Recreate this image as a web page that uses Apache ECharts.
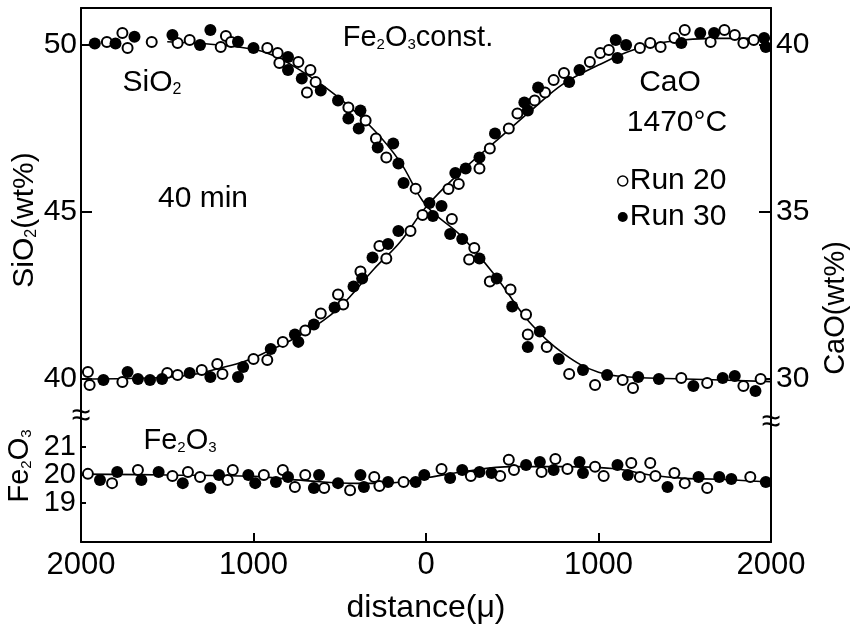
<!DOCTYPE html>
<html>
<head>
<meta charset="utf-8">
<script src="https://cdn.jsdelivr.net/npm/echarts@6/dist/echarts.min.js"></script>
<style>
  html, body { margin: 0; padding: 0; background: #fff; }
  #main { width: 852px; height: 625px; }
</style>
</head>
<body>
<div id="main"></div>
<script>
// tick labels
var siTicks = [40, 45, 50];
var caTicks = [30, 35, 40];
var feTicks = [19, 20, 21];

// SiO2 (wt%) vs distance, open = Run 20, filled = Run 30
var si20 = [[-1850,50.09],[-1760,50.36],[-1730,49.91],[-1590,50.09],[-1440,50.06],[-1370,50.15],[-1190,49.94],[-1160,50.27],[-1130,50.09],[-920,49.91],[-860,49.76],[-850,49.46],[-740,49.49],[-670,49.25],[-690,48.58],[-640,48.89],[-450,48.13],[-350,47.74],[-290,47.2],[-230,46.63],[-60,45.7],[150,44.79],[280,43.92],[250,43.58],[370,42.92],[490,42.68],[580,41.93],[590,41.33],[700,40.96],[830,40.15],[980,39.82],[1140,39.97],[1200,39.73],[1480,40.03],[1630,39.88],[1840,39.79],[1940,40.0]];
var si30 = [[-1920,50.05],[-1800,50.05],[-1690,50.25],[-1470,50.3],[-1310,50.0],[-1250,50.45],[-1090,50.1],[-1000,49.91],[-800,49.64],[-800,49.25],[-720,49.0],[-610,48.64],[-510,48.34],[-450,47.8],[-380,48.04],[-390,47.5],[-280,46.93],[-190,47.05],[-160,46.45],[-130,45.87],[40,44.88],[90,45.18],[140,44.34],[210,44.19],[310,43.61],[410,43.01],[500,42.17],[660,41.42],[590,40.96],[770,40.6],[910,40.27],[1050,40.12],[1230,40.06],[1350,40.0],[1550,39.79],[1720,40.03],[1790,40.09],[1910,39.64]];
var siFit = [[-1500,50.1],[-1100,49.95],[-900,49.72],[-700,49.15],[-500,48.4],[-300,47.45],[-150,46.5],[0,45.2],[200,44.3],[400,43.1],[600,41.7],[800,40.75],[1000,40.2],[1200,40.05],[1500,40.0],[2000,39.92]];

// CaO (wt%)
var ca20 = [[-1960,30.21],[-1950,29.82],[-1760,29.91],[-1500,30.18],[-1440,30.12],[-1300,30.27],[-1210,30.45],[-1180,30.15],[-1000,30.6],[-920,30.57],[-830,31.11],[-700,31.45],[-610,31.96],[-510,32.53],[-480,32.23],[-380,33.22],[-270,33.98],[-230,33.61],[-90,34.43],[-20,34.91],[130,35.69],[190,35.84],[310,36.3],[370,36.9],[480,37.5],[530,37.95],[630,38.34],[690,38.58],[740,38.95],[800,39.16],[950,39.49],[1010,39.76],[1060,39.85],[1240,39.91],[1300,40.06],[1360,39.94],[1440,40.21],[1500,40.45],[1650,40.09],[1730,40.45],[1790,40.3],[1840,40.06],[1900,40.15]];
var ca30 = [[-1870,29.97],[-1730,30.21],[-1670,30.0],[-1600,29.97],[-1530,30.0],[-1370,30.18],[-1250,30.06],[-1090,30.06],[-1060,30.36],[-900,30.9],[-760,31.33],[-740,31.11],[-650,31.63],[-530,32.14],[-420,32.77],[-370,33.01],[-310,33.64],[-220,34.04],[-160,34.43],[20,35.27],[170,36.17],[230,36.3],[310,36.63],[400,37.35],[570,38.28],[590,38.04],[650,38.73],[830,38.89],[890,39.25],[1100,40.15],[1110,39.61],[1160,40.0],[1480,40.06],[1590,40.36],[1670,40.36],[1960,40.21],[1970,39.94]];
var caFit = [[-2000,30.0],[-1500,30.05],[-1100,30.45],[-900,30.87],[-700,31.4],[-500,32.15],[-300,33.3],[-150,34.1],[0,35.15],[200,36.2],[400,37.1],[600,38.0],[800,38.85],[1000,39.4],[1200,39.85],[1400,40.1],[1700,40.2],[2000,40.2]];

// Fe2O3 (wt%)
var fe20 = [[-1960,20.04],[-1820,19.71],[-1670,20.18],[-1470,19.96],[-1380,20.11],[-1310,19.93],[-1150,19.82],[-1120,20.18],[-940,20.0],[-830,20.18],[-760,19.57],[-700,20.0],[-590,19.54],[-440,19.46],[-300,19.93],[-270,19.61],[-130,19.75],[90,20.21],[260,19.96],[430,19.96],[480,20.54],[510,20.18],[670,20.11],[750,20.57],[820,20.21],[980,20.29],[1030,19.96],[1190,20.43],[1240,19.93],[1300,20.43],[1330,19.96],[1440,20.07],[1500,19.71],[1630,19.54],[1880,19.93]];
var fe30 = [[-1890,19.82],[-1790,20.11],[-1650,19.82],[-1550,20.11],[-1410,19.71],[-1250,19.54],[-1200,20.0],[-1030,20.0],[-990,19.71],[-870,19.75],[-800,19.93],[-650,19.54],[-620,20.0],[-510,19.71],[-380,20.0],[-360,19.57],[-220,19.75],[-60,19.75],[-10,20.0],[140,19.89],[210,20.18],[310,20.11],[380,20.07],[580,20.36],[660,20.46],[740,20.18],[890,20.46],[910,20.07],[1110,20.36],[1170,20.0],[1400,19.57],[1580,19.93],[1700,19.93],[1770,19.86],[1970,19.75]];
var feFit = [[-2000,20.03],[-1500,20.0],[-1000,19.95],[-700,19.8],[-400,19.7],[-200,19.72],[0,19.9],[200,20.1],[500,20.3],[800,20.3],[1100,20.22],[1300,20.0],[1500,19.88],[1700,19.85],[2000,19.75]];

var FONT = '"Liberation Sans", Arial, sans-serif';
var black = '#000';

var chart = echarts.init(document.getElementById('main'));

function openDots(data, xi, yi) {
  return {
    name: 'Run 20', type: 'scatter', xAxisIndex: xi, yAxisIndex: yi,
    symbol: 'circle', symbolSize: 10, data: data, z: 3,
    itemStyle: { color: '#fff', borderColor: black, borderWidth: 2, opacity: 1 }
  };
}
function filledDots(data, xi, yi) {
  return {
    name: 'Run 30', type: 'scatter', xAxisIndex: xi, yAxisIndex: yi,
    symbol: 'circle', symbolSize: 12, data: data, z: 3,
    itemStyle: { color: black, opacity: 1 }
  };
}
function fitLine(data, xi, yi) {
  return {
    type: 'line', xAxisIndex: xi, yAxisIndex: yi, data: data,
    smooth: 0.4, showSymbol: false, z: 2,
    lineStyle: { color: black, width: 1.6 }
  };
}
// text with optional subscripts: '{m|Fe}{s|2}{m|O}{s|3}'
function label(text, x, y, size, rot) {
  return {
    type: 'text', x: x, y: y, rotation: rot || 0, z: 10,
    style: {
      text: text, fill: black, font: size + 'px ' + FONT,
      align: 'center', verticalAlign: 'middle',
      textAlign: 'center', textVerticalAlign: 'middle',
      rich: {
        m: { fontSize: size, lineHeight: size, fontFamily: FONT, fill: black, color: black },
        s: { fontSize: Math.round(size * 0.52), lineHeight: Math.round(size * 0.52), fontFamily: FONT,
             fill: black, color: black, verticalAlign: 'bottom' }
      }
    }
  };
}

var axisLineStyle = { color: black, width: 2 };
// lower left labels are packed tightly, so 20 and 19/21 go on two overlaid axes
var feMid = feTicks.filter(function (v) { return v === 20; });
var feOuter = feTicks.filter(function (v) { return v !== 20; });

var option = {
  animation: false,
  backgroundColor: '#fff',
  textStyle: { fontFamily: FONT, color: black },
  grid: [
    { left: 81, right: 81, top: 8, height: 407 },
    { left: 81, right: 81, top: 415, bottom: 83 }
  ],
  legend: {
    data: [
      { name: 'Run 20', itemStyle: { color: '#fff', borderColor: black, borderWidth: 1.5 } },
      { name: 'Run 30', itemStyle: { color: black } }
    ],
    orient: 'vertical', left: 612, top: 161,
    itemWidth: 10, itemHeight: 10, itemGap: 6,
    icon: 'circle',
    textStyle: { fontSize: 30, color: black, fontFamily: FONT, lineHeight: 30, padding: [0, 0, 0, -3] }
  },
  xAxis: [
    {
      gridIndex: 0, type: 'value', min: -2000, max: 2000, position: 'top',
      axisLine: { show: true, onZero: false, lineStyle: axisLineStyle },
      axisTick: { show: false }, axisLabel: { show: false }, splitLine: { show: false }
    },
    {
      gridIndex: 1, type: 'value', min: -2000, max: 2000, interval: 1000, position: 'bottom',
      axisLine: { show: true, onZero: false, lineStyle: axisLineStyle },
      axisTick: { show: true, inside: true, length: 9, lineStyle: { color: black, width: 2 } },
      axisLabel: { fontSize: 31, color: black, margin: 8, formatter: function (v) { return Math.abs(v); } },
      splitLine: { show: false },
      name: 'distance(μ)', nameLocation: 'middle', nameGap: 50,
      nameTextStyle: { fontSize: 32, color: black }
    }
  ],
  yAxis: [
    {
      gridIndex: 0, type: 'value', position: 'left', min: 38.92, max: 51.11,
      axisLine: { show: true, onZero: false, lineStyle: axisLineStyle },
      axisTick: { show: true, inside: true, length: 11, customValues: siTicks, lineStyle: { color: black, width: 2 } },
      axisLabel: { customValues: siTicks, fontSize: 30, color: black, margin: 4 },
      splitLine: { show: false }
    },
    {
      gridIndex: 0, type: 'value', position: 'right', min: 28.92, max: 41.11,
      axisLine: { show: true, onZero: false, lineStyle: axisLineStyle },
      axisTick: { show: true, inside: true, length: 12, customValues: caTicks, lineStyle: { color: black, width: 2 } },
      axisLabel: { customValues: caTicks, fontSize: 30, color: black, margin: 5 },
      splitLine: { show: false }
    },
    {
      gridIndex: 1, type: 'value', position: 'left', min: 17.61, max: 22.14,
      axisLine: { show: true, onZero: false, lineStyle: axisLineStyle },
      axisTick: { show: true, inside: true, length: 5, customValues: feTicks, lineStyle: { color: black, width: 2 } },
      axisLabel: { customValues: feMid, fontSize: 29, color: black, margin: 5 },
      splitLine: { show: false }
    },
    {
      gridIndex: 1, type: 'value', position: 'right', min: 17.61, max: 22.14,
      axisLine: { show: true, onZero: false, lineStyle: axisLineStyle },
      axisTick: { show: false }, axisLabel: { show: false }, splitLine: { show: false }
    },
    {
      gridIndex: 1, type: 'value', position: 'left', min: 17.61, max: 22.14,
      axisLine: { show: false, onZero: false },
      axisTick: { show: false },
      axisLabel: { customValues: feOuter, fontSize: 29, color: black, margin: 5 },
      splitLine: { show: false }
    }
  ],
  series: [
    fitLine(siFit, 0, 0),
    fitLine(caFit, 0, 1),
    fitLine(feFit, 1, 2),
    openDots(si20, 0, 0),
    filledDots(si30, 0, 0),
    openDots(ca20, 0, 1),
    filledDots(ca30, 0, 1),
    openDots(fe20, 1, 2),
    filledDots(fe30, 1, 2)
  ],
  graphic: [
    label('{m|Fe}{s|2}{m|O}{s|3}{m|const.}', 418, 38, 29),
    label('{m|SiO}{s|2}', 152, 83, 30),
    label('{m|40 min}', 203, 199, 30),
    label('{m|CaO}', 670, 83, 30),
    label('{m|1470°C}', 677, 123, 30),
    label('{m|Fe}{s|2}{m|O}{s|3}', 180, 441, 29),
    label('{m|SiO}{s|2}{m|(wt%)}', 25, 220, 30, Math.PI / 2),
    label('{m|CaO(wt%)}', 836, 308, 29, Math.PI / 2),
    label('{m|Fe}{s|2}{m|O}{s|3}', 20, 466, 29, Math.PI / 2),
    label('{m|≈}', 81, 417, 34),
    label('{m|≈}', 771, 423, 34)
  ]
};

chart.setOption(option);
</script>
</body>
</html>
